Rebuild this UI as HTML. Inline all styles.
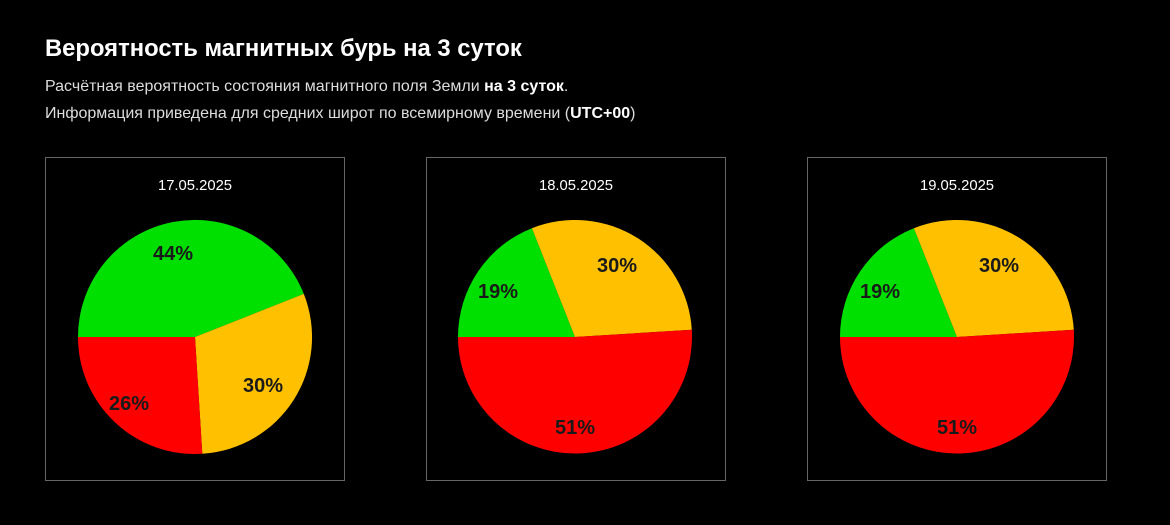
<!DOCTYPE html>
<html><head><meta charset="utf-8"><style>
body{margin:0;background:#000;width:1170px;height:525px;overflow:hidden;font-family:"Liberation Sans",Arial,sans-serif;color:#ddd}
h1{position:absolute;left:45px;top:35px;margin:0;font-size:23.8px;font-weight:bold;color:#fff}
.p{position:absolute;left:45px;font-size:16px;color:#ddd}
.p b{color:#fff}
svg{position:absolute;left:0;top:0}
</style></head><body>
<h1>Вероятность магнитных бурь на 3 суток</h1>
<div class="p" style="top:78px">Расчётная вероятность состояния магнитного поля Земли <b>на 3 суток</b>.</div>
<div class="p" style="top:105px">Информация приведена для средних широт по всемирному времени (<b>UTC+00</b>)</div>
<svg width="1170" height="525" font-family="Liberation Sans, Arial, sans-serif">
<g fill="none" stroke="#666" stroke-width="1">
<rect x="45.5" y="157.5" width="299" height="323"/>
<rect x="426.5" y="157.5" width="299" height="323"/>
<rect x="807.5" y="157.5" width="299" height="323"/>
</g>
<g fill="#fff" font-size="14.8" text-anchor="middle">
<text x="195" y="190">17.05.2025</text>
<text x="576" y="190">18.05.2025</text>
<text x="957" y="190">19.05.2025</text>
</g>
<path d="M195 337L78 337A117 117 0 0 1 303.8 293.9Z" fill="#00e000"/>
<path d="M195 337L303.8 293.9A117 117 0 0 1 202.3 453.8Z" fill="#ffc000"/>
<path d="M195 337L202.3 453.8A117 117 0 0 1 78 337Z" fill="#ff0000"/>
<path d="M575 337L458 337A117 117 0 0 1 531.9 228.2Z" fill="#00e000"/>
<path d="M575 337L531.9 228.2A117 117 0 0 1 691.8 329.7Z" fill="#ffc000"/>
<path d="M575 337L691.8 329.7A117 117 0 1 1 458 337Z" fill="#ff0000"/>
<path d="M957 337L840 337A117 117 0 0 1 913.9 228.2Z" fill="#00e000"/>
<path d="M957 337L913.9 228.2A117 117 0 0 1 1073.8 329.7Z" fill="#ffc000"/>
<path d="M957 337L1073.8 329.7A117 117 0 1 1 840 337Z" fill="#ff0000"/>
<g fill="#1a1a1a" font-size="20" font-weight="bold" text-anchor="middle">
<text x="173" y="260">44%</text>
<text x="263" y="392">30%</text>
<text x="129" y="410">26%</text>
<text x="617" y="272">30%</text>
<text x="498" y="298">19%</text>
<text x="575" y="434">51%</text>
<text x="999" y="272">30%</text>
<text x="880" y="298">19%</text>
<text x="957" y="434">51%</text>
</g>
</svg>
</body></html>
